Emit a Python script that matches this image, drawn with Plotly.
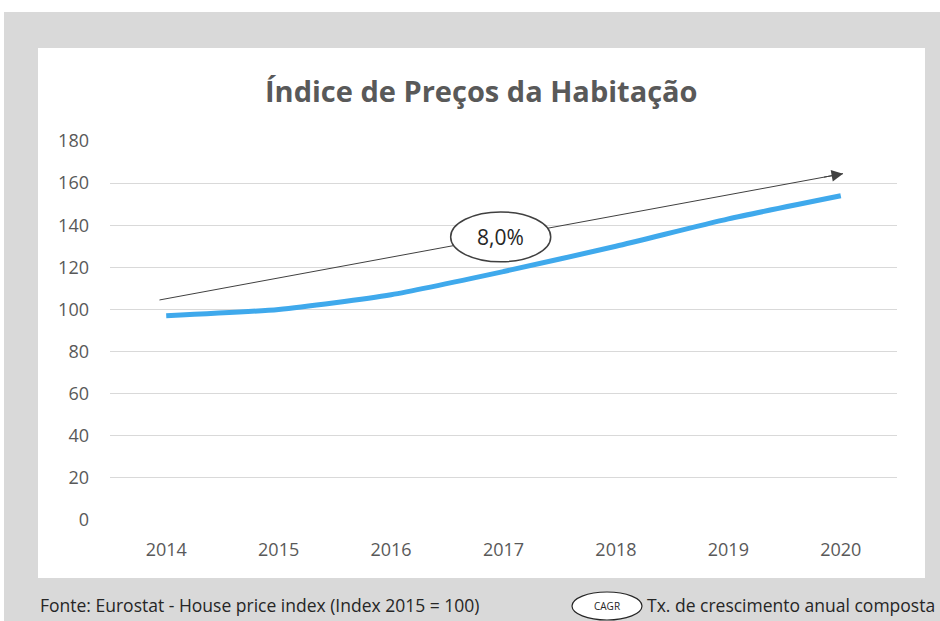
"""Índice de Preços da Habitação (Eurostat HPI, 2015 = 100) with CAGR arrow."""

import plotly.graph_objects as go

years = [2014, 2015, 2016, 2017, 2018, 2019, 2020]
hpi = [97, 100, 107, 118, 130, 143, 154]
y_ticks = [0, 20, 40, 60, 80, 100, 120, 140, 160, 180]
cagr_label = "8,0%"
cagr_start = [2013.94, 104.5]
cagr_end = [2020.02, 164.5]

title_text = "Índice de Preços da Habitação"
source_text = "Fonte: Eurostat - House price index (Index 2015 = 100)"
legend_text = "Tx. de crescimento anual composta"

FONT = "Open Sans"
GREY_TXT = "#595959"

# plot area in pixels: x 110..897, y 141..520 (figure is 940x621)
L, R, T, B = 110, 43, 141, 101
W, H = 940, 621
PW, PH = W - L - R, H - T - B


def px(x):
    return (x - L) / PW


def py(y):
    return (H - B - y) / PH


fig = go.Figure()
fig.add_trace(
    go.Scatter(
        x=years,
        y=hpi,
        mode="lines",
        line=dict(color="#3fa9ec", width=5, shape="spline", smoothing=0.6),
        hoverinfo="x+y",
        showlegend=False,
    )
)

# backgrounds: outer grey frame and inner white card
fig.add_shape(type="rect", xref="paper", yref="paper", layer="below",
              x0=px(4), x1=px(940), y0=py(621), y1=py(12),
              fillcolor="#d9d9d9", line=dict(width=0))
fig.add_shape(type="rect", xref="paper", yref="paper", layer="below",
              x0=px(38), x1=px(925), y0=py(578), y1=py(48),
              fillcolor="white", line=dict(width=0))

# CAGR arrow: shaft as a shape (so the ellipse can cover it), head as annotation
fig.add_shape(type="line", xref="x", yref="y", layer="above",
              x0=cagr_start[0], y0=cagr_start[1], x1=cagr_end[0], y1=cagr_end[1],
              line=dict(color="#404040", width=1))
dx = (cagr_end[0] - cagr_start[0]) * 0.03
dy = (cagr_end[1] - cagr_start[1]) * 0.03
fig.add_annotation(
    x=cagr_end[0], y=cagr_end[1], ax=cagr_end[0] - dx, ay=cagr_end[1] - dy,
    xref="x", yref="y", axref="x", ayref="y", text="",
    showarrow=True, arrowhead=2, arrowsize=2.3, arrowwidth=1,
    arrowcolor="#404040",
)
# ellipse with CAGR value
fig.add_shape(type="circle", xref="x", yref="y", layer="above",
              x0=2016.53, x1=2017.42, y0=122.6, y1=146.3,
              fillcolor="white", line=dict(color="#404040", width=1.5))
fig.add_annotation(x=2016.975, y=134.5, xref="x", yref="y", text=cagr_label,
                   showarrow=False, font=dict(family=FONT, size=21, color="#262626"))

# title
fig.add_annotation(x=px(481), y=py(90), xref="paper", yref="paper",
                   text=f"<b>{title_text}</b>", showarrow=False,
                   xanchor="center", yanchor="middle",
                   font=dict(family=FONT, size=29, color=GREY_TXT))

# footer
fig.add_annotation(x=px(38), y=py(605), xref="paper", yref="paper",
                   text=source_text, showarrow=False, xanchor="left", yanchor="middle",
                   font=dict(family=FONT, size=17.5, color="#262626"))
fig.add_shape(type="circle", xref="paper", yref="paper", layer="above",
              x0=px(572), x1=px(642), y0=py(620), y1=py(592),
              fillcolor="white", line=dict(color="#262626", width=1.2))
fig.add_annotation(x=px(607), y=py(606), xref="paper", yref="paper",
                   text="CAGR", showarrow=False, xanchor="center", yanchor="middle",
                   font=dict(family=FONT, size=10, color="#262626"))
fig.add_annotation(x=px(645), y=py(605), xref="paper", yref="paper",
                   text=legend_text, showarrow=False, xanchor="left", yanchor="middle",
                   font=dict(family=FONT, size=17.5, color="#262626"))

fig.update_layout(
    width=W,
    height=H,
    margin=dict(l=L, r=R, t=T, b=B),
    paper_bgcolor="white",
    plot_bgcolor="rgba(0,0,0,0)",
    font=dict(family=FONT, color=GREY_TXT),
    xaxis=dict(
        range=[2013.5, 2020.5],
        tickvals=years,
        ticktext=[str(y) for y in years],
        showgrid=False,
        zeroline=False,
        showline=False,
        ticks="",
        tickfont=dict(size=18, color=GREY_TXT),
        ticklabelstandoff=17,
        fixedrange=True,
    ),
    yaxis=dict(
        range=[0, 180],
        tickvals=y_ticks,
        showgrid=True,
        gridcolor="#d9d9d9",
        gridwidth=1,
        zeroline=False,
        showline=False,
        ticks="",
        tickfont=dict(size=18, color=GREY_TXT),
        ticklabelstandoff=20,
        fixedrange=True,
    ),
)

# drop the browser's default body margin so the figure fills the window
fig.write_html(
    "out.html",
    config={"displayModeBar": False},
    post_script="document.body.style.margin='0';",
)
